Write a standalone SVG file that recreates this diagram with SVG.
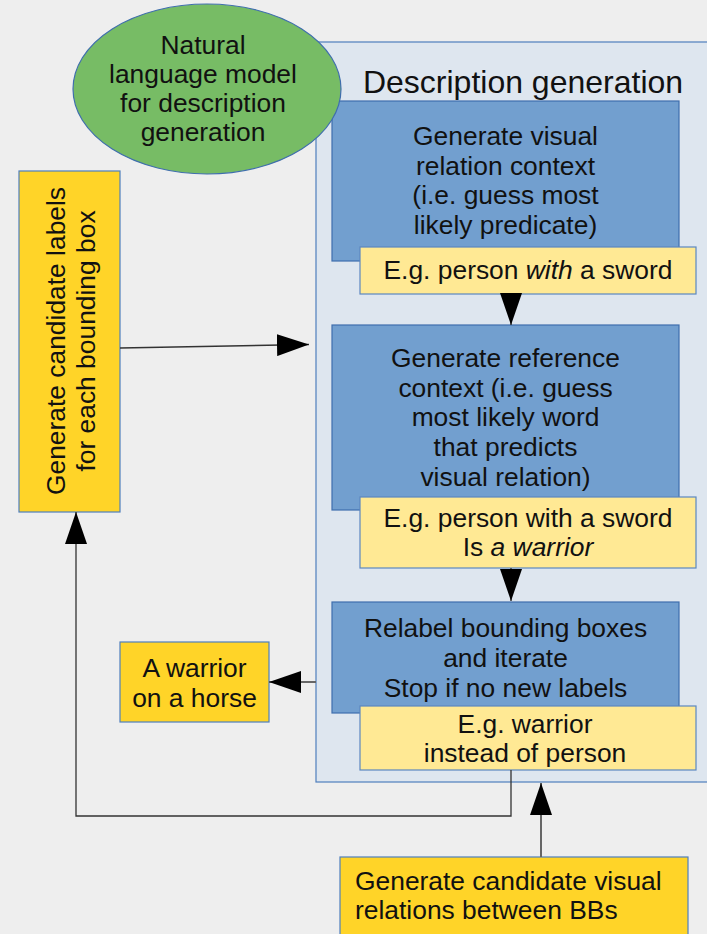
<svg xmlns="http://www.w3.org/2000/svg" width="707" height="934" viewBox="0 0 707 934">
  <style>
    text { font-family: "Liberation Sans", Arial, sans-serif; font-size: 26.4px; fill: #111; }
    .mid { text-anchor: middle; }
    .title { font-size: 32px; }
    .frame { fill: #dee6ef; stroke: #4f7fbd; stroke-width: 1.2; }
    .step { fill: #729fcf; stroke: #3f6ead; stroke-width: 1.2; }
    .note { fill: #ffe994; stroke: #5b87c0; stroke-width: 1.2; }
    .input { fill: #ffd428; stroke: #4f7fbd; stroke-width: 1.2; }
    .model { fill: #77bc65; stroke: #3f6ead; stroke-width: 1.2; }
    .wire { fill: none; stroke: #333; stroke-width: 1.3; }
    .wire-grey { fill: none; stroke: #666; stroke-width: 2; }
  </style>
  <defs>
    <marker id="head" markerUnits="userSpaceOnUse" markerWidth="33" markerHeight="22" refX="32" refY="11" orient="auto">
      <path d="M0,0 L32,11 L0,22 z" fill="#000"/>
    </marker>
  </defs>

  <rect width="707" height="934" fill="#eeeeee"/>

  <!-- pipeline container -->
  <g id="description-generation">
    <rect class="frame" x="316" y="42" width="400" height="740"/>
    <text class="title mid" x="523" y="92.5">Description generation</text>
  </g>

  <!-- step 1 -->
  <g id="visual-relation-context">
    <rect class="step" x="332" y="101" width="347" height="160"/>
    <text class="mid" x="505.5" y="145">Generate visual</text>
    <text class="mid" x="505.5" y="174.7">relation context</text>
    <text class="mid" x="505.5" y="204.4">(i.e. guess most</text>
    <text class="mid" x="505.5" y="234.1">likely predicate)</text>
  </g>
  <g id="example-predicate">
    <rect class="note" x="360" y="247" width="336" height="47"/>
    <text class="mid" x="528" y="279.3">E.g. person <tspan font-style="italic">with</tspan> a sword</text>
  </g>

  <!-- step 2 -->
  <g id="reference-context">
    <rect class="step" x="332" y="325" width="347" height="185"/>
    <text class="mid" x="505.5" y="366.7">Generate reference</text>
    <text class="mid" x="505.5" y="396.5">context (i.e. guess</text>
    <text class="mid" x="505.5" y="426.3">most likely word</text>
    <text class="mid" x="505.5" y="456.1">that predicts</text>
    <text class="mid" x="505.5" y="485.9">visual relation)</text>
  </g>
  <g id="example-reference">
    <rect class="note" x="360" y="497" width="336" height="71"/>
    <text class="mid" x="528" y="526.7">E.g. person with a sword</text>
    <text class="mid" x="528" y="556">Is <tspan font-style="italic">a warrior</tspan></text>
  </g>

  <!-- step 3 -->
  <g id="relabel">
    <rect class="step" x="332" y="602" width="347" height="111"/>
    <text class="mid" x="505.5" y="636.7">Relabel bounding boxes</text>
    <text class="mid" x="505.5" y="666.7">and iterate</text>
    <text class="mid" x="505.5" y="696.7">Stop if no new labels</text>
  </g>
  <g id="example-relabel">
    <rect class="note" x="360" y="706" width="336" height="64"/>
    <text class="mid" x="525" y="732.7">E.g. warrior</text>
    <text class="mid" x="525" y="761.7">instead of person</text>
  </g>

  <!-- language model -->
  <g id="language-model">
    <ellipse class="model" cx="207" cy="89" rx="134" ry="85"/>
    <text class="mid" x="203" y="53.5">Natural</text>
    <text class="mid" x="203" y="82.5">language model</text>
    <text class="mid" x="203" y="111.5">for description</text>
    <text class="mid" x="203" y="140.5">generation</text>
  </g>

  <!-- inputs and output -->
  <g id="candidate-labels">
    <rect class="input" x="19" y="171" width="101" height="341"/>
    <text class="mid" transform="translate(65,341) rotate(-90)">Generate candidate labels</text>
    <text class="mid" transform="translate(95,341) rotate(-90)">for each bounding box</text>
  </g>
  <g id="result">
    <rect class="input" x="120" y="642" width="149" height="80"/>
    <text class="mid" x="194.5" y="677.3">A warrior</text>
    <text class="mid" x="194.5" y="706.7">on a horse</text>
  </g>
  <g id="candidate-relations">
    <rect class="input" x="340" y="857" width="348" height="90"/>
    <text x="355" y="890">Generate candidate visual</text>
    <text x="355" y="918.5">relations between BBs</text>
  </g>

  <!-- connectors -->
  <g id="connectors">
    <path class="wire" d="M511,294 V325" marker-end="url(#head)"/>
    <path class="wire" d="M511,568 V601" marker-end="url(#head)"/>
    <path class="wire" d="M120,348 L309,344.5" marker-end="url(#head)"/>
    <path class="wire-grey" d="M316,682 H269" marker-end="url(#head)"/>
    <path class="wire" d="M511,770 V816 H76 V512" marker-end="url(#head)"/>
    <path class="wire-grey" d="M541,857 V783" marker-end="url(#head)"/>
  </g>
</svg>
